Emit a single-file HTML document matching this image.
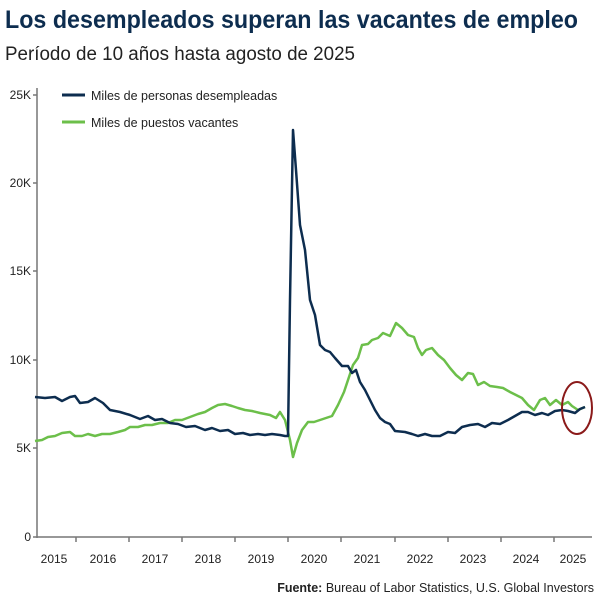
<!DOCTYPE html>
<html><head><meta charset="utf-8"><style>html,body{margin:0;padding:0;background:#fff}svg{display:block}</style></head>
<body>
<svg width="600" height="600" viewBox="0 0 600 600" xmlns="http://www.w3.org/2000/svg" font-family="Liberation Sans, sans-serif">
<rect width="600" height="600" fill="#fff"/>
<text x="5" y="28" font-size="25" font-weight="bold" fill="#0d2d4f" textLength="573" lengthAdjust="spacingAndGlyphs">Los desempleados superan las vacantes de empleo</text>
<text x="5" y="60" font-size="19" fill="#222" textLength="350" lengthAdjust="spacingAndGlyphs">Período de 10 años hasta agosto de 2025</text>
<g stroke="#777" stroke-width="1.5" fill="none">
<line x1="37" y1="88" x2="37" y2="538"/>
<line x1="37" y1="537" x2="592" y2="537"/>
<line x1="33" y1="95" x2="37" y2="95"/><line x1="33" y1="183" x2="37" y2="183"/><line x1="33" y1="271" x2="37" y2="271"/><line x1="33" y1="360" x2="37" y2="360"/><line x1="33" y1="448" x2="37" y2="448"/><line x1="33" y1="537" x2="37" y2="537"/>
<line x1="76" y1="537" x2="76" y2="542"/><line x1="129" y1="537" x2="129" y2="542"/><line x1="182" y1="537" x2="182" y2="542"/><line x1="235" y1="537" x2="235" y2="542"/><line x1="288" y1="537" x2="288" y2="542"/><line x1="341" y1="537" x2="341" y2="542"/><line x1="395" y1="537" x2="395" y2="542"/><line x1="448" y1="537" x2="448" y2="542"/><line x1="501" y1="537" x2="501" y2="542"/><line x1="554" y1="537" x2="554" y2="542"/>
</g>
<g font-size="12" fill="#222" text-anchor="end">
<text x="31" y="99">25K</text><text x="31" y="187">20K</text><text x="31" y="275">15K</text><text x="31" y="364">10K</text><text x="31" y="452">5K</text><text x="31" y="541">0</text>
</g>
<g font-size="12" fill="#222" text-anchor="middle">
<text x="54" y="563">2015</text><text x="103" y="563">2016</text><text x="155" y="563">2017</text><text x="208" y="563">2018</text><text x="261" y="563">2019</text><text x="314" y="563">2020</text><text x="367" y="563">2021</text><text x="420" y="563">2022</text><text x="473" y="563">2023</text><text x="526" y="563">2024</text><text x="573" y="563">2025</text>
</g>
<text x="594" y="592" font-size="12.5" fill="#222" text-anchor="end"><tspan font-weight="bold">Fuente:</tspan> Bureau of Labor Statistics, U.S. Global Investors</text>
<line x1="62" y1="95" x2="85" y2="95" stroke="#0d2d4f" stroke-width="3"/>
<text x="91" y="100" font-size="12.5" fill="#222">Miles de personas desempleadas</text>
<line x1="62" y1="122" x2="85" y2="122" stroke="#6cbf4a" stroke-width="3"/>
<text x="91" y="127" font-size="12.5" fill="#222">Miles de puestos vacantes</text>
<polyline fill="none" stroke="#6cbf4a" stroke-width="2.5" stroke-linejoin="round" points="35,441 42,440 48,437 55,436 62,433 70,432 75,436 82,436 88,434 95,436 102,434 110,434 118,432 125,430 130,427 138,427 145,425 152,425 160,423 168,423 175,420 182,420 190,417 198,414 205,412 212,408 218,405 225,404 232,406 238,408 245,410 252,411 260,413 265,414 270,415 276,418 280,412 285,420 290,440 293,457 297,443 302,430 308,422 314,422 320,420 326,418 332,416 338,405 344,392 348,380 353,365 358,358 362,345 368,344 372,340 378,338 383,333 390,336 396,323 402,328 408,335 414,337 418,348 422,355 426,350 432,348 438,355 444,360 450,368 456,375 462,380 468,373 473,374 478,385 484,382 490,386 497,387 503,388 510,392 516,395 522,398 528,405 534,410 540,400 545,398 550,405 556,400 562,405 568,402 572,406 578,410 585,407"/>
<polyline fill="none" stroke="#0d2d4f" stroke-width="2.5" stroke-linejoin="round" points="35,397 45,398 55,397 62,401 70,397 75,396 80,403 88,402 95,398 103,403 110,410 120,412 130,415 140,419 148,416 155,420 162,419 170,423 178,424 186,427 195,426 205,430 212,428 220,431 228,430 235,434 243,433 250,435 258,434 265,435 272,434 280,435 285,436 288,436 290,300 293,130 296,170 300,225 305,250 310,300 315,315 320,345 325,350 330,352 335,358 342,366 348,366 352,373 356,370 360,382 365,390 370,400 375,410 380,418 385,422 390,424 395,431 405,432 412,434 418,436 425,434 432,436 440,436 448,432 455,433 462,427 470,425 478,424 485,427 492,423 500,424 508,420 515,416 522,412 528,412 535,415 542,413 548,415 555,411 562,410 568,411 575,413 580,409 585,407"/>
<ellipse cx="577" cy="408" rx="15" ry="26" fill="none" stroke="#8b1a1a" stroke-width="2"/>
</svg>
</body></html>
